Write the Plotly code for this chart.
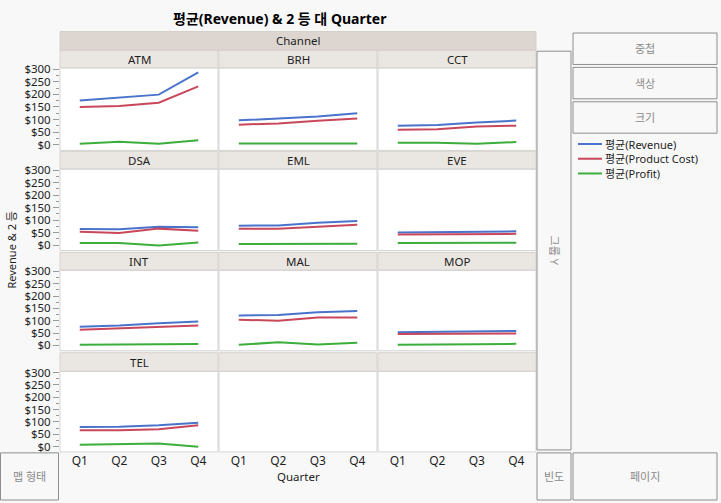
import plotly.graph_objects as go

W, H = 721, 503

quarters = ["Q1", "Q2", "Q3", "Q4"]
channels = ["ATM", "BRH", "CCT", "DSA", "EML", "EVE", "INT", "MAL", "MOP", "TEL"]

revenue = [
    [176, 187, 199, 287],   # ATM
    [97, 103, 112, 125],    # BRH
    [76, 79, 89, 96],       # CCT
    [65, 64, 74, 72],       # DSA
    [78, 79, 90, 97],       # EML
    [50, 52, 54, 55],       # EVE
    [75, 80, 90, 97],       # INT
    [121, 123, 134, 139],   # MAL
    [53, 54, 54, 58],       # MOP
    [79, 80, 86, 96],       # TEL
]
product_cost = [
    [150, 154, 167, 232],
    [80, 85, 95, 104],
    [60, 62, 73, 76],
    [53, 48, 66, 57],
    [66, 66, 74, 82],
    [42, 43, 46, 45],
    [63, 69, 75, 80],
    [104, 100, 113, 113],
    [46, 46, 47, 48],
    [66, 66, 70, 86],
]
profit = [
    [4, 12, 4, 18],
    [5, 5, 2, 5],
    [8, 8, 4, 11],
    [8, 8, -2, 10],
    [4, 4, 5, 5],
    [8, 9, 7, 9],
    [2, 3, 4, 5],
    [2, 12, 3, 10],
    [2, 2, 4, 6],
    [7, 10, 12, -1],
]

series_names = ["평균(Revenue)", "평균(Product Cost)", "평균(Profit)"]
series_colors = ["#4a74cb", "#c9475b", "#3cae3c"]
series_data = [revenue, product_cost, profit]

FONT = "Noto Sans, Noto Sans CJK KR, sans-serif"
TEXT = "#1e1e1e"
GRAYTXT = "#8a8a8a"
FS = 11

col_px = [(60, 218), (219, 377), (378, 536)]
row_plot_px = [(62, 146), (165, 248), (268, 350), (371, 453)]
row_head_px = [(44, 62), (147, 165), (250, 268), (352, 371)]

def fx(px):
    return px / W

def fy(py):
    return 1 - py / H

fig = go.Figure()
layout = dict(
    width=W, height=H, autosize=False,
    margin=dict(l=0, r=0, t=0, b=0),
    paper_bgcolor="#f8f8f8", plot_bgcolor="#ffffff",
    showlegend=False,
    font=dict(family=FONT, size=FS, color=TEXT),
)
shapes = []
annotations = []

for r in range(4):
    for c in range(3):
        idx = r * 3 + c
        n = idx + 1
        xname = "x" if n == 1 else f"x{n}"
        yname = "y" if n == 1 else f"y{n}"
        xa = "xaxis" if n == 1 else f"xaxis{n}"
        ya = "yaxis" if n == 1 else f"yaxis{n}"
        x0, x1 = col_px[c]
        t, b = row_plot_px[r]
        layout[xa] = dict(
            domain=[fx(x0), fx(x1)], anchor=yname, type="category",
            categoryorder="array", categoryarray=quarters,
            range=[-0.5, 3.5], showgrid=False, zeroline=False,
            showline=False, ticks="",
            showticklabels=(r == 3),
            tickfont=dict(size=12, color=TEXT, family=FONT),
        )
        layout[ya] = dict(
            domain=[fy(b), fy(t)], anchor=xname,
            range=[-22, 305], showgrid=False, zeroline=False, showline=False,
            tickmode="linear", tick0=0, dtick=50, tickprefix="$",
            showticklabels=(c == 0),
            ticks="outside" if c == 0 else "", ticklen=6, tickcolor="#9a9a9a",
            tickfont=dict(size=FS + 0.5, color=TEXT, family=FONT),
            minor=dict(dtick=25, tick0=0, ticks="outside" if c == 0 else "",
                       ticklen=3, tickcolor="#9a9a9a"),
        )
        shapes.append(dict(type="rect", xref="paper", yref="paper",
                           x0=fx(x0), x1=fx(x1), y0=fy(b), y1=fy(t),
                           line=dict(color="#d4d4d4", width=1), layer="above"))
        ht, hb = row_head_px[r]
        shapes.append(dict(type="rect", xref="paper", yref="paper",
                           x0=fx(x0), x1=fx(x1), y0=fy(hb), y1=fy(ht),
                           fillcolor="#eae6e1", line=dict(color="#d9d3cd", width=1),
                           layer="below"))
        if idx < len(channels):
            annotations.append(dict(text=channels[idx], xref="paper", yref="paper",
                                    x=fx((x0 + x1) / 2), y=fy((ht + hb) / 2),
                                    showarrow=False, xanchor="center", yanchor="middle",
                                    font=dict(size=FS + 0.5, color=TEXT, family=FONT)))
            for s in range(3):
                fig.add_trace(go.Scatter(
                    x=quarters, y=series_data[s][idx], mode="lines",
                    line=dict(color=series_colors[s], width=2),
                    name=series_names[s], xaxis=xname, yaxis=yname,
                    hoverinfo="skip"))
        else:
            fig.add_trace(go.Scatter(x=quarters, y=[None] * 4, mode="lines",
                                     xaxis=xname, yaxis=yname, hoverinfo="skip"))

shapes.append(dict(type="rect", xref="paper", yref="paper",
                   x0=fx(60), x1=fx(536), y0=fy(44), y1=fy(25),
                   fillcolor="#ddd6d0", line=dict(color="#d6cfc9", width=1), layer="below"))
annotations.append(dict(text="Channel", xref="paper", yref="paper",
                        x=fx(298), y=fy(34.5), showarrow=False,
                        xanchor="center", yanchor="middle",
                        font=dict(size=FS + 0.5, color=TEXT, family=FONT)))

annotations.append(dict(text="<b>평균(Revenue) & 2 등 대 Quarter</b>", xref="paper", yref="paper",
                        x=fx(280), y=fy(12), showarrow=False,
                        xanchor="center", yanchor="middle",
                        font=dict(size=14, color="#000000", family=FONT)))

annotations.append(dict(text="Revenue & 2 등", xref="paper", yref="paper",
                        x=fx(12), y=fy(248), showarrow=False, textangle=-90,
                        xanchor="center", yanchor="middle",
                        font=dict(size=FS, color=TEXT, family=FONT)))
annotations.append(dict(text="Quarter", xref="paper", yref="paper",
                        x=fx(298), y=fy(478), showarrow=False,
                        xanchor="center", yanchor="middle",
                        font=dict(size=FS + 0.5, color=TEXT, family=FONT)))

boxes = [
    ("중첩", 573, 717, 26.5, 58.5, 0),
    ("색상", 573, 717, 61.5, 93.5, 0),
    ("크기", 573, 717, 96.5, 128.5, 0),
    ("그룹 Y", 537, 571, 45, 451, 90),
    ("맵 형태", 0.5, 58.5, 454, 502, 0),
    ("빈도", 537, 571, 454, 502, 0),
    ("페이지", 573, 717, 454, 502, 0),
]
for label, bx0, bx1, by0, by1, ang in boxes:
    shapes.append(dict(type="rect", xref="paper", yref="paper",
                       x0=fx(bx0), x1=fx(bx1), y0=fy(by1), y1=fy(by0),
                       fillcolor="#f8f8f8", line=dict(color="#8e8e8e", width=1)))
    annotations.append(dict(text=label, xref="paper", yref="paper",
                            x=fx((bx0 + bx1) / 2), y=fy((by0 + by1) / 2),
                            showarrow=False, textangle=ang,
                            xanchor="center", yanchor="middle",
                            font=dict(size=FS, color=GRAYTXT, family=FONT)))

leg_y = [139.5, 154.5, 169.5]
for s in range(3):
    shapes.append(dict(type="line", xref="paper", yref="paper",
                       x0=fx(578), x1=fx(602), y0=fy(leg_y[s]), y1=fy(leg_y[s]),
                       line=dict(color=series_colors[s], width=2)))
    annotations.append(dict(text=series_names[s], xref="paper", yref="paper",
                            x=fx(603), y=fy(leg_y[s]), showarrow=False,
                            xanchor="left", yanchor="middle",
                            font=dict(size=FS, color=TEXT, family=FONT)))

layout["shapes"] = shapes
layout["annotations"] = annotations
fig.update_layout(**layout)
fig.write_html(
    "out.html",
    config={"displayModeBar": False},
    post_script=(
        "document.documentElement.style.margin='0';"
        "document.body.style.margin='0';"
        "document.body.style.overflow='hidden';"
        "document.documentElement.style.overflow='hidden';"
    ),
)
